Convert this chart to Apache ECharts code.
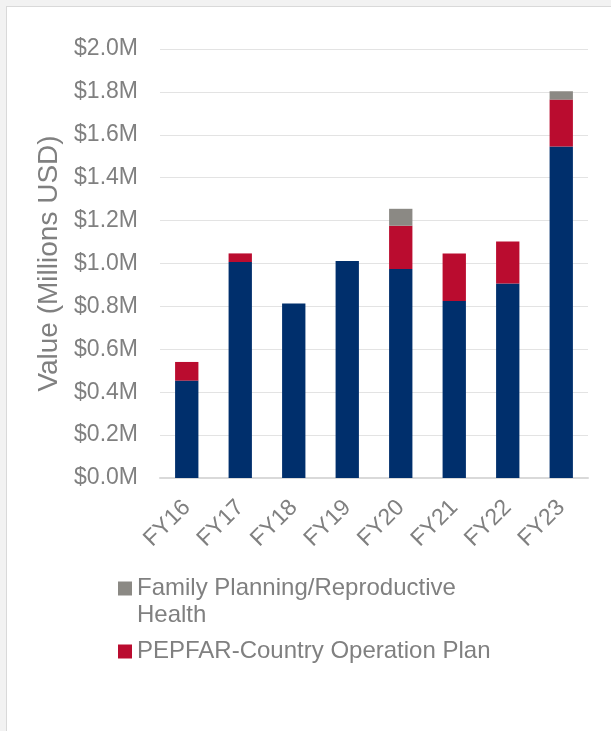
<!DOCTYPE html>
<html>
<head>
<meta charset="utf-8">
<script src="https://cdn.jsdelivr.net/npm/echarts@6/dist/echarts.min.js"></script>
<style>
    html, body { margin: 0; padding: 0; background: #f2f2f2; overflow: hidden; }
    #card { position: absolute; left: 6px; top: 6px; width: 700px; height: 800px; background: #fff; border-left: 1px solid #d9d9d9; border-top: 1px solid #d9d9d9; }
    #chart { position: absolute; left: 0; top: 0; width: 611px; height: 731px; }
</style>
</head>
<body>
<div id="card"></div>
<div id="chart"></div>
<script>
// values in millions USD
const years = ['FY16', 'FY17', 'FY18', 'FY19', 'FY20', 'FY21', 'FY22', 'FY23'];
const baseFunding = [0.454, 1.007, 0.814, 1.012, 0.974, 0.825, 0.907, 1.545];
const pepfarCop = [0.087, 0.040, 0, 0, 0.202, 0.222, 0.196, 0.219];
const familyPlanning = [0, 0, 0, 0, 0.079, 0, 0, 0.039];
const yTicks = [0, 0.2, 0.4, 0.6, 0.8, 1.0, 1.2, 1.4, 1.6, 1.8, 2.0];

const textGray = '#808080';
const fontName = '"Liberation Sans", Arial, sans-serif';

let chartElem = document.getElementById('chart');
let chart = echarts.init(chartElem);
chart.setOption({
    animation: false,
    textStyle: { fontFamily: fontName },
    grid: { left: 160, right: 23, top: 49, bottom: 253 },
    legend: [{
        data: ['Family Planning/Reproductive Health'],
        orient: 'vertical',
        left: 118,
        top: 548,
        padding: 0,
        icon: 'rect',
        itemWidth: 14,
        itemHeight: 14,
        // empty first line so the icon sits beside the first text line
        formatter: function(name) {
            return '\nFamily Planning/Reproductive\nHealth';
        },
        textStyle: { color: textGray, fontSize: 24, lineHeight: 27, fontFamily: fontName }
    }, {
        data: ['PEPFAR-Country Operation Plan'],
        orient: 'vertical',
        left: 118,
        top: 638,
        padding: 0,
        icon: 'rect',
        itemWidth: 14,
        itemHeight: 14,
        textStyle: { color: textGray, fontSize: 24, lineHeight: 27, fontFamily: fontName }
    }],
    xAxis: {
        type: 'category',
        data: years,
        axisLine: { lineStyle: { color: '#d9d9d9', width: 2 } },
        axisTick: { show: false },
        axisLabel: { color: textGray, fontSize: 23, rotate: 45, margin: 26, interval: 0 }
    },
    yAxis: {
        type: 'value',
        min: yTicks[0],
        max: yTicks[yTicks.length - 1],
        interval: 0.2,
        name: 'Value (Millions USD)',
        nameLocation: 'middle',
        nameGap: 95,
        nameTextStyle: { color: textGray, fontSize: 28 },
        axisLine: { show: false },
        axisTick: { show: false },
        splitLine: { lineStyle: { color: '#e3e3e3', width: 1 } },
        axisLabel: {
            color: textGray,
            fontSize: 23,
            margin: 22,
            formatter: function(v) { return '$' + v.toFixed(1) + 'M'; }
        }
    },
    series: [{
        name: 'Other Funding',
        type: 'bar',
        stack: 'total',
        barWidth: '43.6%',
        data: baseFunding,
        itemStyle: { color: '#002f6c' }
    }, {
        name: 'PEPFAR-Country Operation Plan',
        type: 'bar',
        stack: 'total',
        data: pepfarCop,
        itemStyle: { color: '#ba0c2f' }
    }, {
        name: 'Family Planning/Reproductive Health',
        type: 'bar',
        stack: 'total',
        data: familyPlanning,
        itemStyle: { color: '#8b8984' }
    }]
});
window.addEventListener('resize', function() {
    chart.resize();
});
</script>
</body>
</html>
